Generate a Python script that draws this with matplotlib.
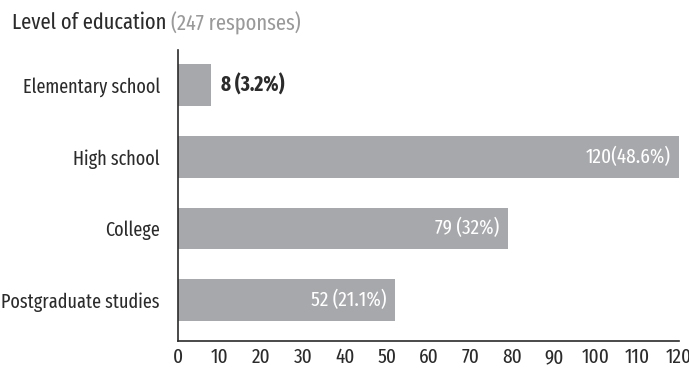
import matplotlib
matplotlib.use('Agg')
import matplotlib.pyplot as plt

plt.rcParams['font.family'] = ['Fira Sans Extra Condensed', 'DejaVu Sans']

categories = ['Elementary school', 'High school', 'College', 'Postgraduate studies']
counts = [8, 120, 79, 52]
labels = ['8 (3.2%)', '120(48.6%)', '79 (32%)', '52 (21.1%)']
xticks = list(range(0, 121, 10))

BAR = '#a7a8ab'
DARK = '#2b2b2b'
FS = 15

fig = plt.figure(figsize=(6.89, 3.71), dpi=100)
ax = fig.add_axes([178 / 689, 30 / 371, 501 / 689, 291 / 371])

pos = list(range(len(categories)))
ax.barh(pos, counts, height=0.58, color=BAR)

for p, v, lab in zip(pos, counts, labels):
    if v < 20:
        ax.text(v + 2.4, p, lab, va='center', ha='left', fontsize=FS,
                fontweight='bold', color=DARK)
    else:
        ax.text(v - 2, p, lab, va='center', ha='right', fontsize=FS,
                color='white')

ax.set_yticks(pos)
ax.set_yticklabels(categories, fontsize=14.2, color=DARK)
ax.set_xticks(xticks)
ax.set_xticklabels([str(t) for t in xticks], fontsize=FS, color=DARK)
ax.set_xlim(0, 120)
ax.set_ylim(3.57, -0.49)

ax.tick_params(axis='both', length=0)
ax.tick_params(axis='y', pad=13)
ax.tick_params(axis='x', pad=5)
for s in ['top', 'right']:
    ax.spines[s].set_visible(False)
ax.spines['left'].set_color(DARK)
ax.spines['bottom'].set_color(DARK)
ax.spines['left'].set_linewidth(1.2)
ax.spines['bottom'].set_linewidth(1.2)

# title with the response count appended in grey
t = fig.text(12 / 689, 1 - 23 / 371, 'Level of education ', fontsize=16,
             color=DARK, va='center', ha='left')
fig.canvas.draw()
bb = t.get_window_extent()
fig.text(bb.x1 / fig.bbox.width, 1 - 23 / 371, '(247 responses)', fontsize=16,
         color='#9a9a9a', va='center', ha='left')

fig.savefig('out.png', dpi=100)
